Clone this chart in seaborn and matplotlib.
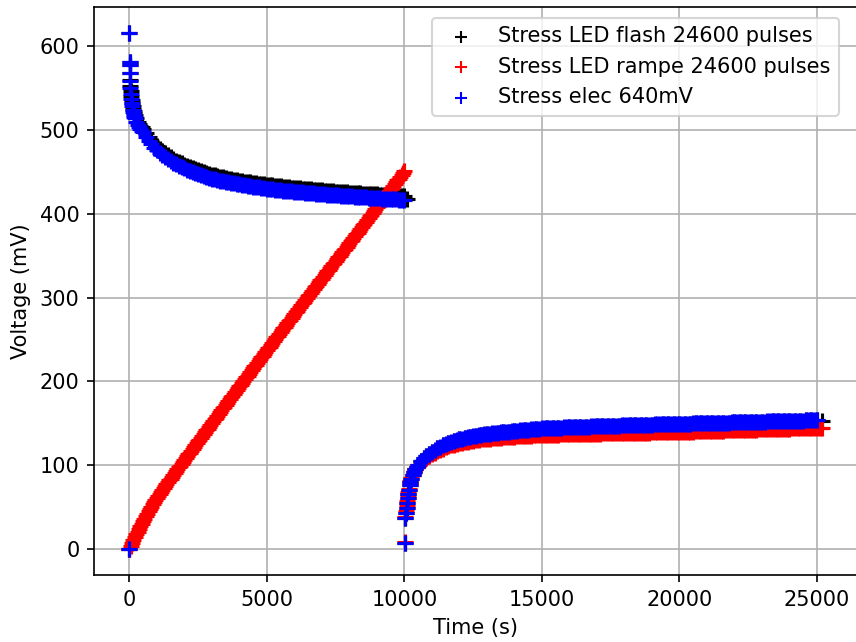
import matplotlib
matplotlib.use("Agg")
import matplotlib.pyplot as plt
import pandas as pd
import seaborn as sns

# ---------------------------------------------------------------- data (time in s, voltage in mV)
# Stress phase sampling: dense at the start, then every 100 s
t_stress_early = [0, 5, 10, 15, 20, 30, 40, 55, 70, 85, 100, 120, 140, 160, 180,
                  200, 250, 300, 350, 400, 450, 500, 600, 700, 800, 900]
t_stress_late_elec = list(range(1000, 10100, 100))
t_stress_late_flash = list(range(1000, 10200, 100))

# Relaxation phase sampling
t_relax_early = [10020, 10040, 10060, 10080, 10100, 10120, 10140, 10160, 10190, 10220,
                 10260, 10300, 10350, 10400, 10450, 10500, 10600, 10700, 10800, 10900]
t_relax_late_elec = list(range(11000, 25100, 100))
t_relax_late_rampe = list(range(11000, 25300, 100))
t_relax_late_flash = list(range(11000, 25400, 200))

# Ramp sampling (every 50 s)
t_rampe = list(range(0, 10050, 50))

# --- Stress elec 640mV
v_elec_stress_early = [0, 616, 581, 578, 568, 558, 550, 543, 537, 532, 528, 524, 521, 518, 516,
                       514, 510, 506, 503, 501, 499, 497, 492, 487, 483, 479]
v_elec_stress_late = [
    476.0, 473.0, 470.2, 467.5, 465.0, 462.9, 460.9, 459.0, 457.2, 455.5,
    454.0, 452.5, 451.1, 449.8, 448.5, 447.3, 446.2, 445.1, 444.0, 443.0,
    442.0, 441.2, 440.4, 439.6, 438.8, 438.0, 437.4, 436.8, 436.2, 435.6,
    435.0, 434.4, 433.8, 433.3, 432.8, 432.3, 431.9, 431.4, 431.0, 430.5,
    430.1, 429.7, 429.3, 428.9, 428.5, 428.1, 427.7, 427.3, 426.9, 426.6,
    426.3, 426.0, 425.7, 425.4, 425.1, 424.8, 424.5, 424.2, 423.9, 423.6,
    423.3, 423.0, 422.8, 422.5, 422.3, 422.0, 421.8, 421.5, 421.3, 421.0,
    420.8, 420.6, 420.3, 420.1, 419.9, 419.6, 419.4, 419.2, 419.0, 418.8,
    418.5, 418.3, 418.1, 417.9, 417.7, 417.5, 417.3, 417.1, 416.9, 416.7,
    416.5]
v_elec_relax_early = [7.5, 37, 43, 49, 55, 61, 66, 71, 76, 80,
                      84, 88, 92, 95, 98, 100.5, 104.5, 108, 111, 113.7]
v_elec_relax_late = [
    116.2, 118.5, 120.5, 122.3, 124.0, 125.5, 126.8, 128.0, 129.1, 130.1,
    131.0, 131.8, 132.6, 133.3, 134.0, 134.6, 135.2, 135.8, 136.3, 136.8,
    137.3, 137.7, 138.1, 138.5, 138.9, 139.3, 139.6, 139.9, 140.2, 140.5,
    140.8, 141.1, 141.4, 141.7, 142.0, 142.3, 142.6, 142.9, 143.2, 143.5,
    143.8, 143.9, 144.1, 144.2, 144.4, 144.5, 144.7, 144.8, 145.0, 145.1,
    145.3, 145.4, 145.5, 145.6, 145.8, 145.9, 146.0, 146.1, 146.2, 146.4,
    146.5, 146.6, 146.7, 146.8, 146.9, 147.0, 147.1, 147.2, 147.3, 147.4,
    147.5, 147.6, 147.7, 147.8, 147.9, 148.0, 148.1, 148.2, 148.3, 148.4,
    148.5, 148.6, 148.7, 148.8, 148.8, 148.9, 149.0, 149.1, 149.2, 149.3,
    149.4, 149.5, 149.6, 149.6, 149.7, 149.8, 149.9, 150.0, 150.1, 150.2,
    150.2, 150.3, 150.4, 150.5, 150.6, 150.7, 150.8, 150.8, 150.9, 151.0,
    151.1, 151.2, 151.3, 151.4, 151.4, 151.5, 151.6, 151.7, 151.8, 151.9,
    152.0, 152.1, 152.2, 152.2, 152.3, 152.4, 152.5, 152.6, 152.7, 152.8,
    152.8, 152.9, 153.0, 153.1, 153.2, 153.3, 153.4, 153.4, 153.5, 153.6,
    153.7]

# --- Stress LED flash 24600 pulses
v_flash_stress_early = [0, 616, 581, 578, 568, 559, 552, 546, 541, 536, 532, 528, 525, 522, 520,
                        518, 514, 510, 507, 505, 503, 501, 496, 491, 487, 483]
v_flash_stress_late = [
    480.5, 477.5, 474.7, 472.0, 469.5, 467.4, 465.4, 463.5, 461.7, 460.0,
    458.5, 457.0, 455.6, 454.3, 453.0, 451.8, 450.7, 449.6, 448.5, 447.5,
    446.5, 445.7, 444.9, 444.1, 443.3, 442.5, 441.9, 441.3, 440.7, 440.1,
    439.5, 438.9, 438.3, 437.8, 437.3, 436.8, 436.4, 435.9, 435.5, 435.0,
    434.6, 434.2, 433.8, 433.4, 433.0, 432.6, 432.2, 431.8, 431.4, 431.1,
    430.8, 430.5, 430.2, 429.9, 429.6, 429.3, 429.0, 428.7, 428.4, 428.1,
    427.8, 427.5, 427.3, 427.0, 426.8, 426.5, 426.3, 426.0, 425.8, 425.5,
    425.3, 425.1, 424.8, 424.6, 424.4, 424.1, 423.9, 423.7, 423.5, 423.3,
    423.0, 422.8, 422.6, 422.4, 422.2, 422.0, 421.8, 421.6, 421.4, 421.2,
    421.0, 418.0]
v_flash_relax_early = [7.5, 37, 43, 49, 55, 61, 66, 71, 76, 80,
                       84, 88, 92, 95, 98, 100.5, 104.5, 108, 111, 113.7]
v_flash_relax_late = [
    116.0, 120.3, 123.8, 126.6, 128.9, 130.8, 132.4, 133.8, 135.0, 136.1,
    137.0, 137.8, 138.6, 139.3, 139.9, 140.5, 141.1, 141.7, 142.3, 142.9,
    143.5, 143.8, 144.1, 144.4, 144.7, 145.0, 145.3, 145.6, 145.8, 146.1,
    146.3, 146.5, 146.7, 146.9, 147.1, 147.3, 147.5, 147.7, 147.9, 148.1,
    148.3, 148.5, 148.7, 148.8, 149.0, 149.2, 149.4, 149.6, 149.8, 149.9,
    150.1, 150.3, 150.5, 150.7, 150.8, 151.0, 151.2, 151.4, 151.6, 151.7,
    151.9, 152.1, 152.3, 152.5, 152.6, 152.8, 153.0, 153.2, 153.4, 153.5,
    153.7, 153.2]

# --- Stress LED rampe 24600 pulses
v_rampe_stress = [
    0.0, 3.6, 7.2, 10.7, 14.1, 17.5, 20.8, 24.0, 27.2, 30.3,
    33.4, 36.4, 39.3, 42.2, 45.0, 47.8, 50.5, 53.2, 55.8, 58.4,
    61.0, 63.5, 65.9, 68.3, 70.6, 72.9, 75.2, 77.4, 79.6, 81.8,
    84.0, 86.2, 88.4, 90.7, 92.9, 95.1, 97.3, 99.5, 101.8, 104.0,
    106.2, 108.4, 110.6, 112.8, 115.0, 117.3, 119.5, 121.7, 123.9, 126.1,
    128.3, 130.5, 132.7, 134.9, 137.1, 139.3, 141.5, 143.7, 145.9, 148.1,
    150.3, 152.5, 154.7, 156.9, 159.1, 161.3, 163.4, 165.6, 167.8, 170.0,
    172.2, 174.4, 176.6, 178.7, 180.9, 183.1, 185.3, 187.5, 189.6, 191.8,
    194.0, 196.2, 198.3, 200.5, 202.7, 204.9, 207.0, 209.2, 211.4, 213.5,
    215.7, 217.9, 220.0, 222.2, 224.3, 226.5, 228.7, 230.8, 233.0, 235.1,
    237.3, 239.5, 241.6, 243.8, 245.9, 248.1, 250.2, 252.4, 254.5, 256.7,
    258.8, 260.9, 263.1, 265.2, 267.4, 269.5, 271.6, 273.8, 275.9, 278.1,
    280.2, 282.3, 284.5, 286.6, 288.7, 290.9, 293.0, 295.1, 297.2, 299.4,
    301.5, 303.6, 305.7, 307.9, 310.0, 312.1, 314.2, 316.3, 318.5, 320.6,
    322.7, 324.8, 326.9, 329.0, 331.1, 333.3, 335.4, 337.5, 339.6, 341.7,
    343.8, 345.9, 348.0, 350.1, 352.2, 354.3, 356.4, 358.5, 360.6, 362.7,
    364.8, 366.9, 369.0, 371.1, 373.2, 375.3, 377.4, 379.6, 381.7, 383.9,
    386.0, 388.2, 390.3, 392.5, 394.6, 396.8, 398.9, 401.1, 403.2, 405.4,
    407.5, 409.7, 411.8, 414.0, 416.1, 418.3, 420.4, 422.6, 424.7, 426.9,
    429.0, 431.2, 433.3, 435.5, 437.6, 439.8, 441.9, 444.1, 446.2, 448.4,
    450.5]
v_rampe_relax_early = [8, 38, 45, 51, 57, 63, 68, 72, 77, 81,
                       85, 88.5, 92, 95, 97.5, 99.5, 103, 106, 108.5, 110.8]
v_rampe_relax_late = [
    113.0, 115.0, 116.8, 118.4, 119.9, 121.2, 122.4, 123.5, 124.5, 125.4,
    126.2, 126.9, 127.6, 128.2, 128.8, 129.3, 129.8, 130.3, 130.7, 131.1,
    131.5, 131.8, 132.1, 132.4, 132.7, 133.0, 133.2, 133.5, 133.7, 134.0,
    134.2, 134.4, 134.6, 134.8, 135.0, 135.2, 135.4, 135.5, 135.7, 135.9,
    136.0, 136.1, 136.2, 136.3, 136.4, 136.5, 136.6, 136.7, 136.8, 136.9,
    137.0, 137.1, 137.2, 137.2, 137.3, 137.4, 137.5, 137.5, 137.6, 137.7,
    137.8, 137.8, 137.9, 138.0, 138.0, 138.1, 138.2, 138.2, 138.3, 138.4,
    138.4, 138.5, 138.6, 138.6, 138.7, 138.8, 138.8, 138.9, 139.0, 139.0,
    139.1, 139.2, 139.2, 139.3, 139.4, 139.4, 139.5, 139.6, 139.6, 139.7,
    139.8, 139.9, 140.0, 140.1, 140.2, 140.2, 140.3, 140.4, 140.5, 140.6,
    140.7, 140.8, 140.9, 141.0, 141.1, 141.2, 141.3, 141.4, 141.5, 141.6,
    141.7, 141.8, 141.9, 142.0, 142.1, 142.2, 142.3, 142.4, 142.5, 142.6,
    142.7, 142.8, 142.9, 143.0, 143.1, 143.2, 143.3, 143.4, 143.5, 143.6,
    143.7, 143.8, 143.9, 144.0, 144.1, 144.2, 144.3, 144.4, 144.5, 144.6,
    144.7, 144.8, 144.9]

series_labels = ["Stress LED flash 24600 pulses", "Stress LED rampe 24600 pulses", "Stress elec 640mV"]
series_colors = ["black", "red", "blue"]

# ---------------------------------------------------------------- tables
flash = pd.DataFrame({
    "t": t_stress_early + t_stress_late_flash + t_relax_early + t_relax_late_flash,
    "v": v_flash_stress_early + v_flash_stress_late + v_flash_relax_early + v_flash_relax_late,
})
rampe = pd.DataFrame({
    "t": t_rampe + t_relax_early + t_relax_late_rampe,
    "v": v_rampe_stress + v_rampe_relax_early + v_rampe_relax_late,
})
elec = pd.DataFrame({
    "t": t_stress_early + t_stress_late_elec + t_relax_early + t_relax_late_elec,
    "v": v_elec_stress_early + v_elec_stress_late + v_elec_relax_early + v_elec_relax_late,
})

# ---------------------------------------------------------------- figure
W, H, dpi = 856, 642, 150
fig = plt.figure(figsize=(W / dpi, H / dpi), dpi=dpi)
ax_l, ax_r, ax_b, ax_t = 94, 857, 575, 6.7          # axes box in pixels
ax = fig.add_axes([ax_l / W, (H - ax_b) / H, (ax_r - ax_l) / W, (ax_b - ax_t) / H])

for df, lab, col in zip([flash, rampe, elec], series_labels, series_colors):
    sns.scatterplot(data=df, x="t", y="v", marker="+", color=col, s=64,
                    linewidth=1.5, label=lab, ax=ax, legend=False)

ax.set_xlim(-1284, 26460)
ax.set_ylim(-31, 647)
ax.set_axisbelow(True)
ax.grid(True)
ax.set_xlabel("Time (s)")
ax.set_ylabel("Voltage (mV)")
leg = ax.legend(loc="upper right", borderaxespad=0,
                bbox_to_anchor=((839 - ax_l) / (ax_r - ax_l), (ax_b - 18) / (ax_b - ax_t)))
for h in leg.legend_handles:
    h.set_sizes([36])
    h.set_linewidth(1.0)

fig.savefig("out.png", dpi=dpi)
